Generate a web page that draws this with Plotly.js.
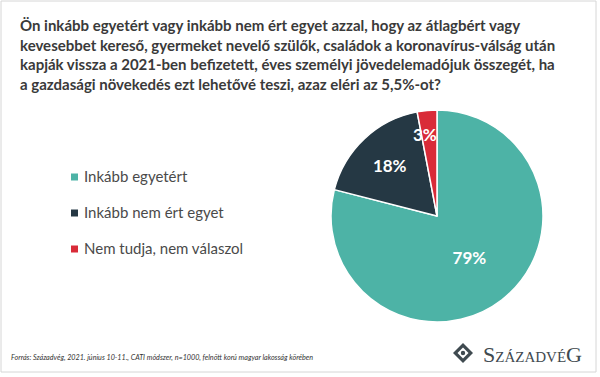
<!DOCTYPE html>
<html><head><meta charset="utf-8">
<script src="https://cdn.plot.ly/plotly-3.0.1.min.js"></script>
<style>html,body{margin:0;padding:0;background:#fff}#chart{width:600px;height:377px}</style>
</head><body><div id="chart"></div>
<script>
const categories = ["Inkább egyetért", "Inkább nem ért egyet", "Nem tudja, nem válaszol"];
const values = [79, 18, 3];
const colors = ["#4db3a6", "#253844", "#d92b38"];
const titleLines = [
  "Ön inkább egyetért vagy inkább nem ért egyet azzal, hogy az átlagbért vagy",
  "kevesebbet kereső, gyermeket nevelő szülők, családok a koronavírus-válság után",
  "kapják vissza a 2021-ben befizetett, éves személyi jövedelemadójuk összegét, ha",
  "a gazdasági növekedés ezt lehetővé teszi, azaz eléri az 5,5%-ot?"
];
const sourceText = "Forrás: Századvég, 2021. június 10-11., CATI módszer, n=1000, felnőtt korú magyar lakosság körében";

const W = 600, H = 377;
const px = x => x / W, py = y => 1 - y / H;

// pie geometry (pixels)
const PCX = 437, PCY = 216, PR = 106;
const smallIdx = 2; // slice whose label overflows, placed by annotation
const total = values.reduce((a, b) => a + b, 0);

const trace = {
  type: "pie",
  labels: categories,
  values: values,
  marker: {colors: colors, line: {color: "#ffffff", width: 1.5}},
  sort: false,
  direction: "clockwise",
  rotation: 0,
  texttemplate: values.map((v, i) => i === smallIdx ? " " : "%{value}%"),
  textinfo: "text",
  textposition: "inside",
  insidetextorientation: "horizontal",
  insidetextfont: {family: "Lato", size: 17, color: "#ffffff", weight: "bold"},
  domain: {x: [px(PCX - PR), px(PCX + PR)], y: [py(PCY + PR), py(PCY - PR)]},
  showlegend: false,
  hoverinfo: "none"
};

const annotations = [];
const shapes = [];
// small-slice label, computed from the data
{
  const cum = values.slice(0, smallIdx).reduce((a, b) => a + b, 0) + values[smallIdx] / 2;
  const th = cum / total * 2 * Math.PI;
  const f = 0.77;
  annotations.push({xref: "paper", yref: "paper",
    x: px(PCX + f * PR * Math.sin(th)), y: py(PCY - f * PR * Math.cos(th)),
    xshift: 10, showarrow: false, text: "<b>" + values[smallIdx] + "%</b>",
    font: {family: "Lato", size: 17, color: "#ffffff"}});
}
// frame
shapes.push({type: "rect", xref: "paper", yref: "paper", x0: px(1), x1: px(596), y0: py(372), y1: py(1),
  line: {color: "#d6d6d6", width: 1}, fillcolor: "rgba(0,0,0,0)"});
// title
annotations.push({xref: "paper", yref: "paper", x: px(18), y: py(14), xanchor: "left", yanchor: "top",
  align: "left", showarrow: false, text: "<b>" + titleLines.join("<br>") + "</b>",
  font: {family: "Lato", size: 15, color: "#3a3a3a"}});
// legend
categories.forEach((c, i) => {
  const yc = 177 + i * 36;
  shapes.push({type: "rect", xref: "paper", yref: "paper", x0: px(71), x1: px(78), y0: py(yc + 3.5), y1: py(yc - 3.5),
    fillcolor: colors[i], line: {width: 0}});
  annotations.push({xref: "paper", yref: "paper", x: px(82), y: py(yc - 1), xanchor: "left", yanchor: "middle",
    showarrow: false, text: c, font: {family: "Lato", size: 15, color: "#4a4a4a"}});
});
// source
annotations.push({xref: "paper", yref: "paper", x: px(9), y: py(357), xanchor: "left", yanchor: "middle",
  showarrow: false, text: "<i>" + sourceText + "</i>", font: {family: "Liberation Sans Narrow, Lato", size: 7.2, color: "#333333"}});
// logo diamond
const cx = 463, cy = 353, r = 10;
shapes.push({type: "path", xref: "paper", yref: "paper",
  path: `M ${px(cx)} ${py(cy - r)} L ${px(cx + r)} ${py(cy)} L ${px(cx)} ${py(cy + r)} L ${px(cx - r)} ${py(cy)} Z`,
  fillcolor: "#3f4a50", line: {width: 0}});
const r2 = 5.5;
shapes.push({type: "path", xref: "paper", yref: "paper",
  path: `M ${px(cx)} ${py(cy - r2)} L ${px(cx + r2)} ${py(cy)} L ${px(cx)} ${py(cy + r2)} L ${px(cx - r2)} ${py(cy)} Z`,
  fillcolor: "#ffffff", line: {width: 0}});
shapes.push({type: "circle", xref: "paper", yref: "paper", x0: px(cx - 2.2), x1: px(cx + 2.2), y0: py(cy + 2.2), y1: py(cy - 2.2),
  fillcolor: "#3f4a50", line: {width: 0}});
annotations.push({xref: "paper", yref: "paper", x: px(481), y: py(354), xanchor: "left", yanchor: "middle",
  showarrow: false,
  text: "<span style='font-size:22px'>S</span>ZÁZADVÉ<span style='font-size:22px'>G</span>",
  font: {family: "Liberation Serif", size: 15, color: "#3f4a50"}});

const layout = {
  width: W, height: H,
  margin: {l: 0, r: 0, t: 0, b: 0},
  paper_bgcolor: "#ffffff",
  showlegend: false,
  shapes: shapes,
  annotations: annotations
};
Plotly.newPlot("chart", [trace], layout, {staticPlot: true});
</script></body></html>
